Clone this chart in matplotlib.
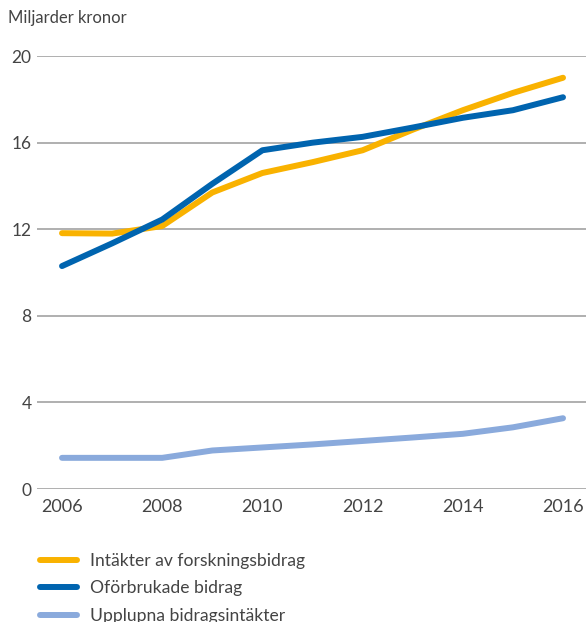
import matplotlib.pyplot as plt

# Data
years = [2006, 2007, 2008, 2009, 2010, 2011, 2012, 2013, 2014, 2015, 2016]
intakter = [11.82, 11.8, 12.15, 13.7, 14.6, 15.1, 15.65, 16.6, 17.5, 18.3, 19.0]
oforbrukade = [10.3, 11.35, 12.45, 14.1, 15.65, 16.0, 16.27, 16.7, 17.15, 17.5, 18.1]
upplupna = [1.44, 1.44, 1.44, 1.78, 1.92, 2.06, 2.22, 2.38, 2.55, 2.85, 3.27]
labels = ['Intäkter av forskningsbidrag', 'Oförbrukade bidrag', 'Upplupna bidragsintäkter']
yticks = [0, 4, 8, 12, 16, 20]
xticks = [2006, 2008, 2010, 2012, 2014, 2016]

plt.rcParams['font.family'] = ['Lato', 'DejaVu Sans']
text_color = '#444444'

fig = plt.figure(figsize=(5.86, 6.22), dpi=100)
ax = fig.add_axes([0.0631, 0.2138, 0.937, 0.696])

colors = ['#f9b200', '#0064af', '#8aaadc']
for series, c, lab in zip([intakter, oforbrukade, upplupna], colors, labels):
    ax.plot(years, series, color=c, lw=4.3, solid_capstyle='round',
            solid_joinstyle='round', label=lab, zorder=3)

ax.set_xlim(2005.5, 2016.46)
ax.set_ylim(0, 20)
ax.set_yticks(yticks)
ax.set_xticks(xticks)
ax.yaxis.grid(True, color='#9a9a9a', lw=1.1)
ax.set_axisbelow(True)
for s in ax.spines.values():
    s.set_visible(False)
ax.tick_params(axis='y', length=0, pad=4, labelsize=12.5, labelcolor=text_color)
ax.tick_params(axis='x', length=0, pad=7, labelsize=13, labelcolor=text_color)

fig.text(8 / 586, 1 - 18 / 622, 'Miljarder kronor', fontsize=12, color=text_color,
         va='center', ha='left')

leg = fig.legend(loc='upper left', bbox_to_anchor=(40 / 586, 1 - 553 / 622), frameon=False,
                 fontsize=12.6, handlelength=2.1, handletextpad=0.75, labelspacing=0.65,
                 borderaxespad=0, borderpad=0)
for t in leg.get_texts():
    t.set_color(text_color)

fig.savefig('out.png', dpi=100)
